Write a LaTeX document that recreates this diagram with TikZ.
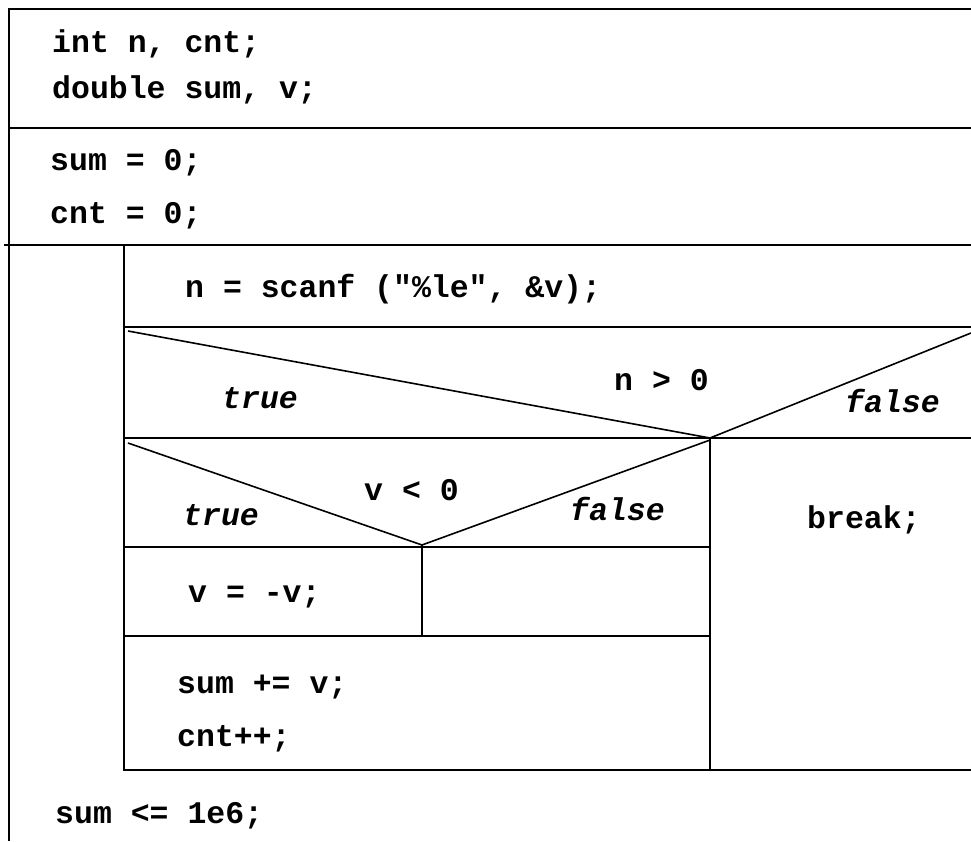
\documentclass[tikz,border=0pt]{standalone}
\usepackage{fontspec}
\setmonofont{Liberation Mono}
\begin{document}
\begin{tikzpicture}[x=1pt,y=-1pt,
  rule/.style={line width=1.6pt,black},
  code/.style={anchor=base west,inner sep=0pt,font=\fontsize{31.5}{36}\selectfont\ttfamily\bfseries},
  branch/.style={code,font=\fontsize{31.5}{36}\selectfont\ttfamily\bfseries\itshape}]
\useasboundingbox (0,0) rectangle (971,841);
\fill[white] (0,0) rectangle (971,841);

% outer frame of the program block
\draw[rule] (971,9) -- (9,9) -- (9,841);
\draw[rule] (9,128) -- (971,128);
\draw[rule] (4,245) -- (971,245);

% loop body frame
\draw[rule] (124,245) -- (124,770) -- (971,770);
\draw[rule] (124,327) -- (971,327);

% outer selection n > 0
\draw[rule] (128,331) -- (710,438) -- (971,333);
\draw[rule] (124,438) -- (971,438);
\draw[rule] (710,438) -- (710,770);

% inner selection v < 0
\draw[rule] (128,443) -- (422,545) -- (710,440);
\draw[rule] (124,547) -- (710,547);
\draw[rule] (422,545) -- (422,636);
\draw[rule] (124,636) -- (710,636);

% declarations and initialisation
\node[code] (decl1) at (52,52) {int n, cnt;};
\node[code] (decl2) at (52,98) {double sum, v;};
\node[code] (init1) at (50,170) {sum = 0;};
\node[code] (init2) at (50,223) {cnt = 0;};

% loop body
\node[code] (read) at (185,297) {n = scanf ("\%le", \&v);};
\node[code] (cond1) at (614,390) {n > 0};
\node[branch] (t1) at (222,408) {true};
\node[branch] (f1) at (845,412) {false};
\node[code] (cond2) at (364,500) {v < 0};
\node[branch] (t2) at (183,525) {true};
\node[branch] (f2) at (570,520) {false};
\node[code] (brk) at (807,528) {break;};
\node[code] (neg) at (188,602) {v = -v;};
\node[code] (acc1) at (177,693) {sum += v;};
\node[code] (acc2) at (177,746) {cnt++;};

% loop condition
\node[code] (until) at (55,823) {sum <= 1e6;};
\end{tikzpicture}
\end{document}
